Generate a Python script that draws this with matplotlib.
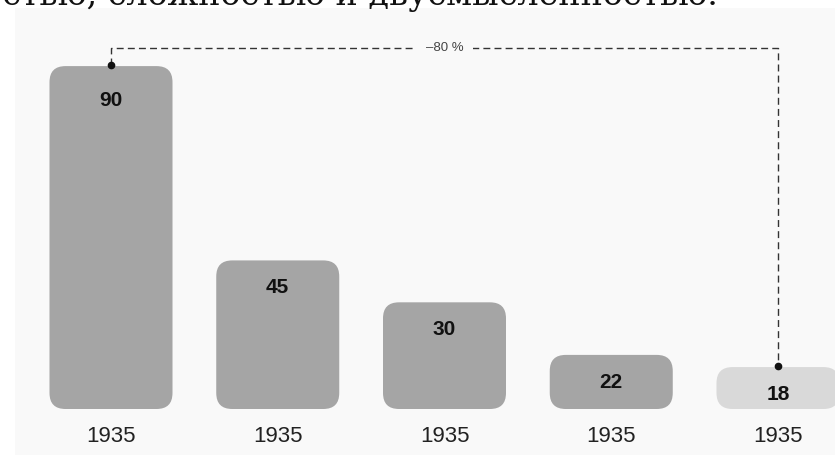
import matplotlib
matplotlib.use("Agg")
import matplotlib.pyplot as plt
from matplotlib.patches import FancyBboxPatch

# data
years = ["1935", "1935", "1935", "1935", "1935"]
values = [90, 45, 30, 22, 18]              # printed numbers
heights = [90, 39, 28, 14.2, 11]            # drawn bar heights (as in the picture)
bar_colors = ["#a5a5a5", "#a5a5a5", "#a5a5a5", "#a5a5a5", "#d9d9d9"]
change_label = "\u201380 %"
caption = "неопределённостью, сложностью и двусмысленностью."

W, H = 835, 455
fig = plt.figure(figsize=(W / 100, H / 100), dpi=100)
fig.patch.set_facecolor("white")

# panel (pixel layout: x 15..835, y 8..455)
ax = fig.add_axes([15 / W, 0, 820 / W, (H - 8) / H])
ax.set_facecolor("#f9f9f9")
for s in ax.spines.values():
    s.set_visible(False)
ax.set_xticks([])
ax.set_yticks([])

px_x = 166.75   # pixels per category
px_y = 3.81     # pixels per value unit
ax.set_xlim((15 - 111) / px_x, (835 - 111) / px_x)
ax.set_ylim(-(455 - 409) / px_y, (409 - 8) / px_y)

bw = 123 / px_x
rad = 16 / px_x
asp = px_x / px_y
for i, (h, c) in enumerate(zip(heights, bar_colors)):
    p = FancyBboxPatch((i - bw / 2 + rad, rad * asp), bw - 2 * rad, h - 2 * rad * asp,
                       boxstyle="round,pad=%f" % rad, mutation_aspect=asp,
                       facecolor=c, edgecolor="none")
    ax.add_patch(p)
    off = 9.0 if i == 0 else 7.2
    ax.text(i, h - off, str(values[i]), ha="center", va="center",
            fontsize=15, fontweight="bold", family="Liberation Sans", color="#111111")
    ax.text(i, -28 / px_y, years[i], ha="center", va="center",
            fontsize=16, family="Liberation Sans", color="#222222")

# change bracket
ytop = (409 - 48) / px_y
ax.plot([0, 0, 4, 4], [heights[0] + 0.3, ytop, ytop, heights[4] + 0.3],
        color="#333333", lw=1.0, ls=(0, (5, 3)))
ax.plot([0, 4], [heights[0] + 0.3, heights[4] + 0.3], "o", color="#111111", ms=4.5)
ax.text(2, ytop, change_label, ha="center", va="center", fontsize=9.5,
        family="Liberation Sans", color="#444444",
        bbox=dict(facecolor="#f9f9f9", edgecolor="none", pad=7))

# cut-off caption line at the very top
fig.text(718 / W, 1 - 5 / H, caption, ha="right", va="baseline",
         fontsize=24, family="DejaVu Serif", color="#111111")

fig.savefig("out.png", dpi=100, facecolor="white")
